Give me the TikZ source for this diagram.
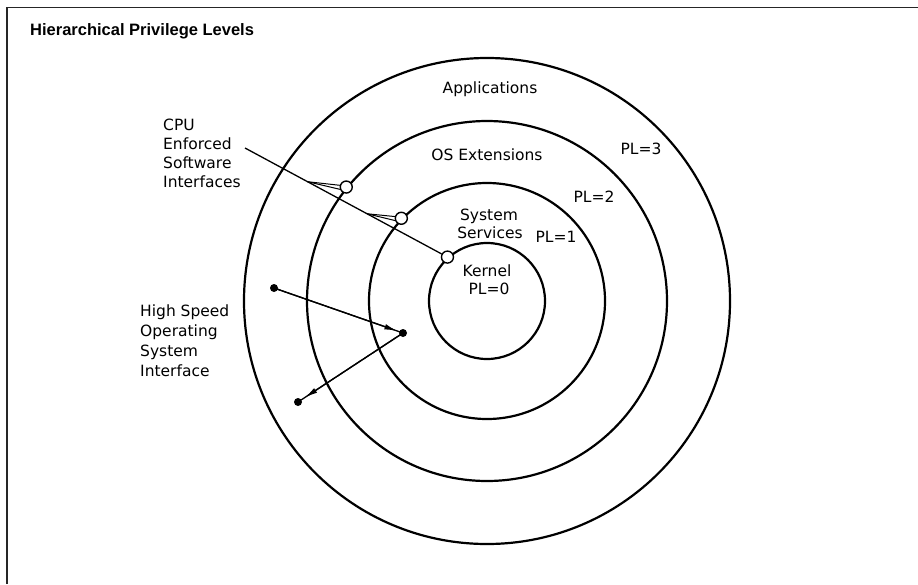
\documentclass[tikz,border=0pt]{standalone}
\usepackage{fontspec}
\setmainfont{DejaVu Sans}
\newfontfamily\titlefont{Liberation Sans}
\usetikzlibrary{arrows.meta,calc}
\begin{document}
\begin{tikzpicture}[x=1pt,y=-1pt,
  ring/.style={circle,draw,line width=2.2pt,inner sep=0pt},
  port/.style={circle,draw,line width=1.4pt,inner sep=0pt,minimum size=12pt,fill=white},
  dotpt/.style={circle,fill,inner sep=0pt,minimum size=8pt},
  lbl/.style={font=\fontsize{15.5}{18}\selectfont,inner sep=0pt,anchor=base},
  lbll/.style={font=\fontsize{15.5}{18}\selectfont,inner sep=0pt,anchor=base west},
  conn/.style={line width=1.3pt},
  arr/.style={line width=1.3pt,-{Latex[length=13pt,width=5.5pt]}}
]
\useasboundingbox (0,0) rectangle (918,584);
% frame
\draw[line width=1.8pt,black!85] (7,584) -- (7,7.5) -- (918,7.5);
\node[anchor=base west,inner sep=0pt,font=\titlefont\bfseries\fontsize{16.5}{19}\selectfont] (title) at (30,35) {Hierarchical Privilege Levels};

% rings
\node[ring,minimum size=486pt] (r3) at (487,301) {};
\node[ring,minimum size=360pt] (r2) at (487,301) {};
\node[ring,minimum size=236pt] (r1) at (487,301) {};
\node[ring,minimum size=116pt] (r0) at (487,301) {};

% ring labels
\node[lbl] (app) at (490,93) {Applications};
\node[lbl] (osx) at (487,160) {OS Extensions};
\node[lbl] (pl3) at (641,154) {PL=3};
\node[lbl] (pl2) at (594,202) {PL=2};
\node[lbl] (sys1) at (489,220) {System};
\node[lbl] (sys2) at (490,238) {Services};
\node[lbl] (pl1) at (556,242) {PL=1};
\node[lbl] (ker) at (487,276) {Kernel};
\node[lbl] (pl0) at (489,294) {PL=0};

% CPU enforced interfaces
\node[lbll] (c1) at (163,130) {CPU};
\node[lbll] (c2) at (163,149) {Enforced};
\node[lbll] (c3) at (163,168) {Software};
\node[lbll] (c4) at (163,187) {Interfaces};
\coordinate (cpustart) at (245,148);
\node[port] (s0) at (r0.132) {};
\node[port] (s1) at (r1.136) {};
\node[port] (s2) at (r2.141) {};
\draw[conn] (cpustart) -- (s0);
\coordinate (t2) at ($(cpustart)!0.309!(s0)$);
\coordinate (t1) at ($(cpustart)!0.603!(s0)$);
\draw[line width=1pt] (t2) -- (s2.165);
\draw[line width=1pt] (t2) -- (s2.200);
\draw[line width=1pt] (t1) -- (s1.165);
\draw[line width=1pt] (t1) -- (s1.200);

% high speed operating system interface
\node[lbll] (h1) at (140,316) {High Speed};
\node[lbll] (h2) at (140,336) {Operating};
\node[lbll] (h3) at (140,356) {System};
\node[lbll] (h4) at (140,376) {Interface};
\node[dotpt] (d1) at (274,288) {};
\node[dotpt] (d2) at (403,333) {};
\node[dotpt] (d3) at (298,402) {};
\draw[conn] (d1.center) -- (d2.center);
\draw[arr,shorten >=6pt] (d1.center) -- (d2.center);
\draw[conn] (d2.center) -- (d3.center);
\draw[arr,shorten >=8pt] (d2.center) -- (d3.center);
\end{tikzpicture}
\end{document}
